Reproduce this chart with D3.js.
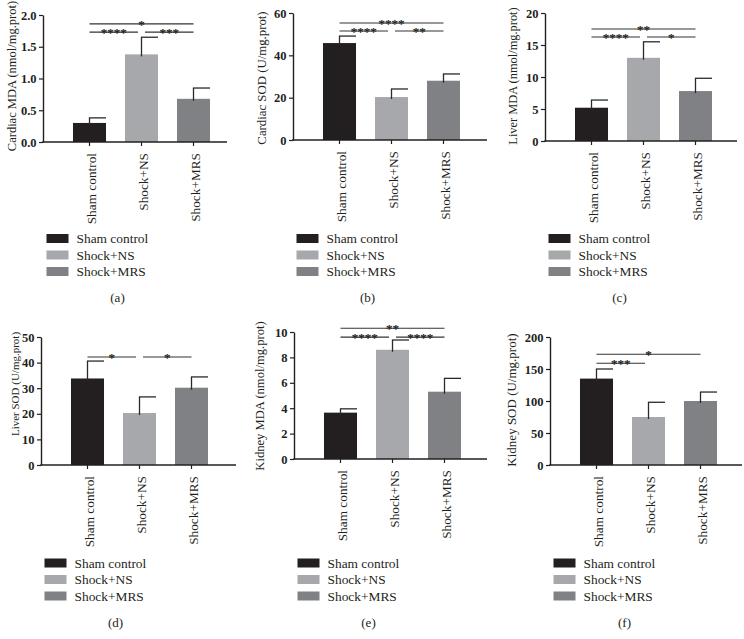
<!DOCTYPE html>
<html>
<head>
<meta charset="utf-8">
<script src="https://cdn.jsdelivr.net/npm/d3@7/dist/d3.min.js"></script>
<style>
  html, body { margin: 0; padding: 0; background: #fff; }
  svg { display: block; }
  text { font-family: "Liberation Serif", "DejaVu Serif", serif; fill: #231f20; }
  .star { opacity: 0.999; }
</style>
</head>
<body>
<svg id="chart" width="744" height="639"></svg>
<script>
// ---------- DATA ----------
const categories = ["Sham control", "Shock+NS", "Shock+MRS"];
const panelLetters = ["(a)", "(b)", "(c)", "(d)", "(e)", "(f)"];
const yTitles = [
  "Cardiac MDA (nmol/mg.prot)",
  "Cardiac SOD (U/mg.prot)",
  "Liver MDA (nmol/mg.prot)",
  "Liver SOD (U/mg.prot)",
  "Kidney MDA (nmol/mg.prot)",
  "Kidney SOD (U/mg.prot)"
];
const yMax = [2, 60, 20, 50, 10, 200];
const yStep = [0.5, 20, 5, 10, 2, 50];
const yFormat = [".1f", "d", "d", "d", "d", "d"];

const cardiacMDA = [0.30, 1.38, 0.68];
const cardiacMDAErr = [0.08, 0.27, 0.17];
const cardiacSOD = [45.8, 20.3, 28.0];
const cardiacSODErr = [3.3, 3.8, 3.2];
const liverMDA = [5.2, 13.0, 7.8];
const liverMDAErr = [1.2, 2.5, 2.0];
const liverSOD = [33.8, 20.3, 30.2];
const liverSODErr = [6.8, 6.3, 4.2];
const kidneyMDA = [3.65, 8.6, 5.3];
const kidneyMDAErr = [0.3, 0.77, 1.05];
const kidneySOD = [135, 75, 100];
const kidneySODErr = [15, 23, 14];

const means = [cardiacMDA, cardiacSOD, liverMDA, liverSOD, kidneyMDA, kidneySOD];
const errs = [cardiacMDAErr, cardiacSODErr, liverMDAErr, liverSODErr, kidneyMDAErr, kidneySODErr];

// significance brackets: from group, to group, height (data units), label
const sigCardiacMDA = [
  {from: 0, to: 2, at: 1.86, label: "*"},
  {from: 0, to: 1, at: 1.73, label: "****"},
  {from: 1, to: 2, at: 1.73, label: "***"}
];
const sigCardiacSOD = [
  {from: 0, to: 2, at: 55.3, label: "****"},
  {from: 0, to: 1, at: 51.5, label: "****"},
  {from: 1, to: 2, at: 51.5, label: "**"}
];
const sigLiverMDA = [
  {from: 0, to: 2, at: 17.5, label: "**"},
  {from: 0, to: 1, at: 16.25, label: "****"},
  {from: 1, to: 2, at: 16.25, label: "*"}
];
const sigLiverSOD = [
  {from: 0, to: 1, at: 42.2, label: "*"},
  {from: 1, to: 2, at: 42.2, label: "*"}
];
const sigKidneyMDA = [
  {from: 0, to: 2, at: 10.3, label: "**"},
  {from: 0, to: 1, at: 9.6, label: "****"},
  {from: 1, to: 2, at: 9.6, label: "****"}
];
const sigKidneySOD = [
  {from: 0, to: 2, at: 173, label: "*"},
  {from: 0, to: 1, at: 159, label: "***"}
];
const sigs = [sigCardiacMDA, sigCardiacSOD, sigLiverMDA, sigLiverSOD, sigKidneyMDA, sigKidneySOD];

const colors = ["#231f20", "#a7a8ab", "#808184"];

// ---------- LAYOUT ----------
const layout = [
  {x0: 43,  yTop: 15,  yBot: 142, len: 184, tDx: -31,   tCy: 76,  tSize: 12.5, legY: 238.5, letY: 297, clipY: 0,   clipH: 320},
  {x0: 293, yTop: 13,  yBot: 140, len: 194, tDx: -31.5, tCy: 78,  tSize: 12.8, legY: 238.5, letY: 297, clipY: 0,   clipH: 320},
  {x0: 545, yTop: 13,  yBot: 141, len: 192, tDx: -32.5, tCy: 76,  tSize: 12.4, legY: 238.5, letY: 297, clipY: 0,   clipH: 320},
  {x0: 41,  yTop: 337, yBot: 465, len: 195, tDx: -26,   tCy: 384, tSize: 11,   legY: 563,   letY: 622, clipY: 321, clipH: 318},
  {x0: 294, yTop: 332, yBot: 459, len: 193, tDx: -34,   tCy: 396, tSize: 12.6, legY: 563,   letY: 622, clipY: 321, clipH: 318},
  {x0: 550, yTop: 337, yBot: 465, len: 192, tDx: -39,   tCy: 400, tSize: 13,   legY: 563,   letY: 622, clipY: 321, clipH: 318}
];
const panelX = [0, 250, 500, 0, 250, 500];
const panelW = [250, 250, 244, 250, 250, 244];

const svg = d3.select("#chart");
const defs = svg.append("defs");

layout.forEach((L, i) => {
  const clipId = "clip" + i;
  defs.append("clipPath").attr("id", clipId)
    .append("rect").attr("x", panelX[i]).attr("y", L.clipY)
    .attr("width", panelW[i]).attr("height", L.clipH);

  const g = svg.append("g").attr("clip-path", `url(#${clipId})`);

  const y = d3.scaleLinear().domain([0, yMax[i]]).range([L.yBot, L.yTop]);
  const x = d3.scaleBand().domain(categories)
    .range([L.x0 + 20.5, L.x0 + 176.5])
    .paddingInner(0.365).paddingOuter(0.1825);
  const cx = c => x(c) + x.bandwidth() / 2;

  // bars
  g.selectAll(".bar").data(categories).enter().append("rect")
    .attr("x", d => x(d))
    .attr("y", (d, j) => y(means[i][j]))
    .attr("width", x.bandwidth())
    .attr("height", (d, j) => y(0) - y(means[i][j]))
    .attr("fill", (d, j) => colors[j]);

  // error bars (upper only, half cap to the right)
  categories.forEach((c, j) => {
    const top = y(means[i][j] + errs[i][j]);
    g.append("line")
      .attr("x1", cx(c)).attr("x2", cx(c))
      .attr("y1", y(means[i][j]) + 2).attr("y2", top)
      .attr("stroke", "#2a2a2a").attr("stroke-width", 1.3);
    g.append("line")
      .attr("x1", cx(c) - 0.6).attr("x2", x(c) + x.bandwidth())
      .attr("y1", top).attr("y2", top)
      .attr("stroke", "#2a2a2a").attr("stroke-width", 1.3);
  });

  // y axis
  const ticks = d3.range(0, yMax[i] + yStep[i] / 2, yStep[i]);
  const yAxis = d3.axisLeft(y).tickValues(ticks).tickSize(4).tickSizeOuter(0)
    .tickFormat(d3.format(yFormat[i]));
  const ya = g.append("g").attr("transform", `translate(${L.x0},0)`).call(yAxis);
  ya.select(".domain").attr("stroke", "#231f20").attr("stroke-width", 1.4);
  ya.selectAll(".tick line").attr("stroke", "#231f20").attr("stroke-width", 1.2);
  ya.selectAll(".tick text")
    .attr("x", -6.5)
    .style("font-family", '"Liberation Serif", "DejaVu Serif", serif')
    .style("font-size", "12.5px").style("font-weight", "bold").attr("fill", "#231f20");

  // x axis
  const xAxis = d3.axisBottom(x).tickSize(4).tickSizeOuter(0).tickFormat("");
  const xa = g.append("g").attr("transform", `translate(0,${L.yBot})`).call(xAxis);
  xa.select(".domain").remove();
  xa.selectAll(".tick line").attr("stroke", "#231f20").attr("stroke-width", 1.2);
  g.append("line")
    .attr("x1", L.x0 - 0.7).attr("x2", L.x0 + L.len)
    .attr("y1", L.yBot).attr("y2", L.yBot)
    .attr("stroke", "#231f20").attr("stroke-width", 1.4);

  // category labels
  g.selectAll(".cat").data(categories).enter().append("text")
    .attr("transform", d => `translate(${cx(d) + 6},${L.yBot + 11}) rotate(-90)`)
    .attr("text-anchor", "end")
    .style("font-size", "13.3px")
    .text(d => d);

  // y title
  g.append("text")
    .attr("transform", `translate(${L.x0 + L.tDx},${L.tCy}) rotate(-90)`)
    .attr("text-anchor", "middle")
    .attr("dy", "0.35em")
    .style("font-size", L.tSize + "px")
    .text(yTitles[i]);

  // significance brackets
  sigs[i].forEach(s => {
    let xa1 = cx(categories[s.from]);
    let xa2 = cx(categories[s.to]);
    if (s.to - s.from === 1) {
      if (s.from === 1) xa1 += 3.5;
      if (s.to === 1) xa2 -= 3.5;
    }
    const yy = y(s.at);
    g.append("line")
      .attr("x1", xa1).attr("x2", xa2).attr("y1", yy).attr("y2", yy)
      .attr("stroke", "#333333").attr("stroke-width", 1.1);
    g.append("text")
      .attr("class", "star")
      .attr("x", (xa1 + xa2) / 2).attr("y", yy + 5)
      .attr("text-anchor", "middle")
      .style("font-size", "13px")
      .style("fill", "#231f20")
      .style("stroke", "#231f20")
      .style("stroke-width", "0.25px")
      .text(s.label);
  });

  // legend
  const lg = g.append("g");
  categories.forEach((c, j) => {
    const ry = L.legY + j * 16.5;
    lg.append("rect")
      .attr("x", L.x0 + 3.5).attr("y", ry - 4.5)
      .attr("width", 22).attr("height", 9)
      .attr("fill", colors[j]);
    lg.append("text")
      .attr("x", L.x0 + 33.5).attr("y", ry + 4.5)
      .style("font-size", "13.4px")
      .text(c);
  });

  // panel letter
  g.append("text")
    .attr("x", L.x0 + 74.5).attr("y", L.letY + 4.5)
    .attr("text-anchor", "middle")
    .style("font-size", "13px")
    .text(panelLetters[i]);
});
</script>
</body>
</html>
